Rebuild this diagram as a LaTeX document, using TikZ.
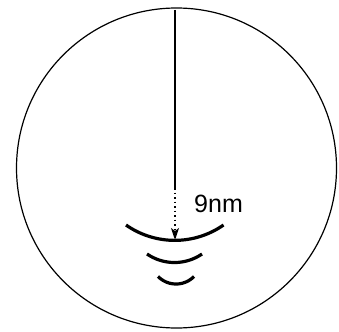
\documentclass[tikz,border=0pt]{standalone}
\usepackage{fontspec}
\setsansfont{Liberation Sans}
\usetikzlibrary{arrows.meta, positioning}
\definecolor{ink}{HTML}{000000}

\begin{document}
\begin{tikzpicture}[
  x=1pt, y=-1pt,
  every node/.style={color=ink},
  dial/.style={circle, draw=ink, line width=1.2pt, minimum size=320pt, inner sep=0pt},
  ray/.style={draw=ink, line width=1.1pt},
  raydot/.style={draw=ink, line width=1.3pt, dash pattern=on 1.5pt off 3pt,
    -{Stealth[length=12pt, width=8pt, inset=3pt]}},
  wave/.style={draw=ink, line width=3.2pt},
  distLabel/.style={font=\sffamily\fontsize{25}{25}\selectfont, anchor=west, inner sep=0pt}
]
\useasboundingbox (0,0) rectangle (339,331);

% --- Outer circle ---
\node[dial] (rim) at (176.5,168) {};

% --- Falling ray: solid, then dotted into the tip ---
\coordinate (src)  at (175,10);
\coordinate (fade) at (175,188);
\coordinate (tip)  at (175,240);
\draw[ray] (src) -- (fade);
\draw[raydot] (fade) -- (tip);

% --- Distance label ---
\node[distLabel] (dist) at (194,204) {9nm};

% --- Ripples below the tip ---
\draw[wave] (126,225) arc[start angle=125, end angle=55, radius=85];
\draw[wave] (147,254) arc[start angle=124.4, end angle=55.6, radius=48.7];
\draw[wave] (158,276.5) arc[start angle=135.4, end angle=44.6, radius=25.3];

\end{tikzpicture}
\end{document}
